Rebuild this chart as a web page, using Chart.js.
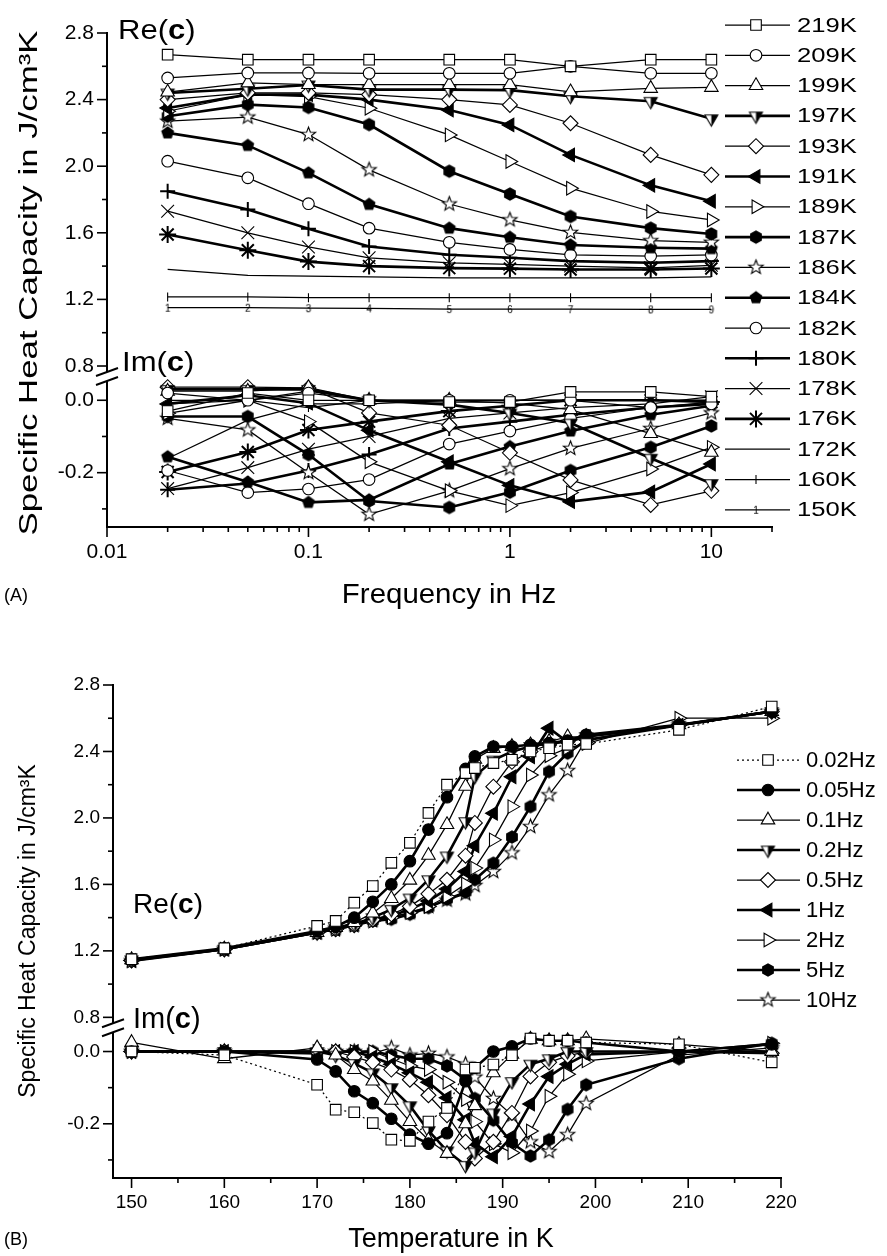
<!DOCTYPE html>
<html>
<head>
<meta charset="utf-8">
<script src="https://cdn.jsdelivr.net/npm/chart.js@4.4.1/dist/chart.umd.min.js"></script>
<style>
  html, body { margin: 0; padding: 0; background: #fff; }
  #wrap { position: relative; width: 887px; height: 1256px; }
  canvas { position: absolute; left: 0; }
</style>
</head>
<body>
<div id="wrap">
  <canvas id="chartA" width="887" height="630" style="top:0"></canvas>
  <canvas id="chartB" width="887" height="626" style="top:630px"></canvas>
</div>
<script>
// ---- datos ----
var freqs = [0.02, 0.05, 0.1, 0.2, 0.5, 1, 2, 5, 10];
var temps = [150, 160, 170, 172, 174, 176, 178, 180, 182, 184, 186, 187, 189, 191, 193, 195, 197, 199, 209, 219];
var freqLabels = ['0.02Hz', '0.05Hz', '0.1Hz', '0.2Hz', '0.5Hz', '1Hz', '2Hz', '5Hz', '10Hz'];
var tempsA = [219, 209, 199, 197, 193, 191, 189, 187, 186, 184, 182, 180, 178, 176, 172, 160, 150];

// Re(c) por frecuencia (un valor por temperatura de "temps")
var re_002 = [1.15, 1.215, 1.35, 1.38, 1.49, 1.59, 1.73, 1.85, 2.03, 2.20, 2.27, 2.30, 2.33, 2.35, 2.40, 2.42, 2.44, 2.445, 2.53, 2.67];
var re_005 = [1.15, 1.215, 1.32, 1.345, 1.40, 1.495, 1.60, 1.74, 1.93, 2.125, 2.295, 2.37, 2.43, 2.43, 2.44, 2.45, 2.465, 2.50, 2.56, 2.64];
var re_01 = [1.147, 1.21, 1.31, 1.34, 1.37, 1.427, 1.515, 1.625, 1.775, 1.96, 2.19, 2.353, 2.418, 2.43, 2.44, 2.46, 2.488, 2.49, 2.56, 2.64];
var re_02 = [1.146, 1.21, 1.31, 1.335, 1.36, 1.40, 1.45, 1.518, 1.628, 1.771, 1.978, 2.25, 2.348, 2.40, 2.43, 2.45, 2.46, 2.49, 2.558, 2.64];
var re_05 = [1.142, 1.21, 1.31, 1.33, 1.355, 1.388, 1.42, 1.468, 1.543, 1.628, 1.773, 1.97, 2.188, 2.338, 2.40, 2.44, 2.46, 2.49, 2.558, 2.64];
var re_1 = [1.142, 1.21, 1.31, 1.33, 1.355, 1.385, 1.41, 1.45, 1.50, 1.573, 1.678, 1.833, 2.028, 2.248, 2.368, 2.54, 2.457, 2.49, 2.558, 2.64];
var re_2 = [1.141, 1.21, 1.31, 1.33, 1.355, 1.38, 1.40, 1.43, 1.467, 1.527, 1.602, 1.698, 1.868, 2.068, 2.258, 2.374, 2.42, 2.447, 2.60, 2.60];
var re_5 = [1.14, 1.21, 1.31, 1.33, 1.355, 1.38, 1.39, 1.42, 1.46, 1.51, 1.553, 1.628, 1.728, 1.885, 2.068, 2.279, 2.39, 2.467, 2.558, 2.64];
var re_10 = [1.14, 1.21, 1.31, 1.335, 1.358, 1.386, 1.405, 1.43, 1.467, 1.505, 1.543, 1.593, 1.677, 1.79, 1.948, 2.139, 2.285, 2.473, 2.558, 2.64];

// Im(c) por frecuencia
var im_002 = [0.0, -0.01, -0.092, -0.161, -0.168, -0.198, -0.244, -0.247, -0.194, -0.156, -0.05, -0.045, -0.036, -0.01, 0.036, 0.03, 0.03, 0.025, 0.02, -0.03];
var im_005 = [0.0, 0.0, -0.022, -0.055, -0.11, -0.143, -0.186, -0.23, -0.255, -0.226, -0.082, -0.045, 0.0, 0.014, 0.036, 0.03, 0.03, 0.025, 0.0, 0.02];
var im_01 = [0.025, -0.02, 0.01, -0.01, -0.05, -0.082, -0.135, -0.194, -0.245, -0.282, -0.2, -0.15, -0.059, -0.008, 0.034, 0.03, 0.03, 0.035, 0.02, 0.0];
var im_02 = [0.0, 0.0, 0.0, -0.01, -0.033, -0.059, -0.1, -0.15, -0.219, -0.275, -0.315, -0.278, -0.17, -0.083, -0.035, -0.02, 0.0, 0.0, 0.0, 0.0];
var im_05 = [0.0, 0.0, 0.0, 0.0, -0.015, -0.03, -0.05, -0.078, -0.121, -0.176, -0.25, -0.296, -0.25, -0.17, -0.069, -0.03, -0.012, 0.0, 0.0, -0.005];
var im_1 = [0.0, 0.0, 0.0, 0.0, 0.0, -0.015, -0.035, -0.059, -0.085, -0.128, -0.189, -0.254, -0.291, -0.235, -0.145, -0.069, -0.035, -0.008, 0.0, -0.005];
var im_2 = [0.0, 0.0, 0.0, 0.0, 0.0, 0.0, -0.02, -0.04, -0.05, -0.085, -0.133, -0.194, -0.255, -0.28, -0.22, -0.124, -0.063, -0.026, 0.0, 0.023];
var im_5 = [0.0, 0.0, -0.005, 0.0, 0.0, 0.0, -0.01, -0.02, -0.02, -0.04, -0.078, -0.13, -0.19, -0.253, -0.289, -0.244, -0.16, -0.092, -0.02, 0.023];
var im_10 = [0.0, 0.0, 0.0, 0.0, 0.0, -0.005, 0.01, -0.01, -0.005, -0.015, -0.035, -0.071, -0.13, -0.176, -0.25, -0.277, -0.23, -0.144, -0.01, 0.01];

// ticks
var reTicks = [0.8, 1.0, 1.2, 1.4, 1.6, 1.8, 2.0, 2.2, 2.4, 2.6, 2.8];
var reTickLabels = [0.8, 1.2, 1.6, 2.0, 2.4, 2.8];
var imTicks = [-0.3, -0.2, -0.1, 0.0];
var imTickLabels = [-0.2, 0.0];
var freqTicks = [0.01, 0.02, 0.03, 0.04, 0.05, 0.06, 0.07, 0.08, 0.09, 0.1, 0.2, 0.3, 0.4, 0.5, 0.6, 0.7, 0.8, 0.9, 1, 2, 3, 4, 5, 6, 7, 8, 9, 10, 20];
var freqTickLabels = [0.01, 0.1, 1, 10];
var tempTicks = [150, 155, 160, 165, 170, 175, 180, 185, 190, 195, 200, 205, 210, 215, 220];
var tempTickLabels = [150, 160, 170, 180, 190, 200, 210, 220];

var reCols = [re_002, re_005, re_01, re_02, re_05, re_1, re_2, re_5, re_10];
var imCols = [im_002, im_005, im_01, im_02, im_05, im_1, im_2, im_5, im_10];

// ---- marcadores ----
var FONT = '"Liberation Sans", Arial, sans-serif';

function shapeCanvas(r, draw) {
    var s = Math.ceil(r * 2 + 4);
    var c = document.createElement('canvas');
    c.width = s; c.height = s;
    var g = c.getContext('2d');
    g.translate(s / 2, s / 2);
    g.lineWidth = 1.1; g.strokeStyle = '#000'; g.fillStyle = '#000';
    draw(g, r);
    return c;
}
function polygon(g, pts) {
    g.beginPath();
    pts.forEach(function(p, i) { if (i) g.lineTo(p[0], p[1]); else g.moveTo(p[0], p[1]); });
    g.closePath();
}
function ngon(n, r) {
    var pts = [];
    for (var i = 0; i < n; i++) {
        var a = i * 2 * Math.PI / n;
        pts.push([r * Math.sin(a), -r * Math.cos(a)]);
    }
    return pts;
}
var pentagonMark = shapeCanvas(6.8, function(g, r) { polygon(g, ngon(5, r)); g.fill(); });
var hexagonMark = shapeCanvas(6.8, function(g, r) { polygon(g, ngon(6, r)); g.fill(); });
var starMark = shapeCanvas(7.5, function(g, r) {
    var pts = [];
    for (var i = 0; i < 10; i++) {
        var rr = i % 2 ? r * 0.42 : r, a = i * Math.PI / 5;
        pts.push([rr * Math.sin(a), -rr * Math.cos(a)]);
    }
    polygon(g, pts); g.fillStyle = '#fff'; g.fill(); g.stroke();
});
var halfDownMark = shapeCanvas(7.5, function(g, r) {
    var a = r * 0.866, b = r * 0.5;
    polygon(g, [[-a, -b], [a, -b], [0, r]]); g.fillStyle = '#fff'; g.fill();
    polygon(g, [[0, -b], [a, -b], [0, r]]); g.fillStyle = '#000'; g.fill();
    polygon(g, [[-a, -b], [a, -b], [0, r]]); g.stroke();
});
function digitMark(d) {
    return shapeCanvas(5, function(g) {
        g.font = '10px ' + FONT; g.textAlign = 'center'; g.textBaseline = 'middle';
        g.fillText(d, 0, 1);
    });
}
var digitMarks = freqs.map(function(f, i) { return digitMark(String(i + 1)); });

var marks = {
    square: {ps: 'rect', r: 7.5, fill: '#fff'},
    circleOpen: {ps: 'circle', r: 5.8, fill: '#fff'},
    circleFilled: {ps: 'circle', r: 5.8, fill: '#000'},
    triUp: {ps: 'triangle', r: 7.8, fill: '#fff'},
    halfDown: {ps: halfDownMark, r: 7.5, fill: '#fff'},
    diamond: {ps: 'rectRot', r: 7.5, fill: '#fff'},
    triLeft: {ps: 'triangle', r: 7.8, rot: 270, fill: '#000'},
    triRight: {ps: 'triangle', r: 7.8, rot: 90, fill: '#fff'},
    hexagon: {ps: hexagonMark, r: 6.8, fill: '#000'},
    star: {ps: starMark, r: 7.5, fill: '#fff'},
    pentagon: {ps: pentagonMark, r: 6.8, fill: '#000'},
    plus: {ps: 'cross', r: 7.5, fill: '#000'},
    cross: {ps: 'crossRot', r: 9, fill: '#000'},
    asterisk: {ps: 'star', r: 8.5, fill: '#000'},
    none: {ps: 'circle', r: 0, fill: '#000'},
    bar: {ps: 'line', r: 4.5, rot: 90, fill: '#000'},
    digits: {ps: digitMarks, r: 5, fill: '#000'}
};

var markA = ['square', 'circleOpen', 'triUp', 'halfDown', 'diamond', 'triLeft', 'triRight', 'hexagon', 'star', 'pentagon', 'circleOpen', 'plus', 'cross', 'asterisk', 'none', 'bar', 'digits'];
var thickA = [0, 0, 0, 1, 0, 1, 0, 1, 0, 1, 0, 1, 0, 1, 0, 0, 0];
var markB = ['square', 'circleFilled', 'triUp', 'halfDown', 'diamond', 'triLeft', 'triRight', 'hexagon', 'star'];
var thickB = [0, 1, 0, 1, 0, 1, 0, 1, 0];

function seriesStyle(kind, thick, dotted) {
    var m = marks[kind];
    return {
        ps: m.ps, r: m.r, rot: m.rot || 0, fill: m.fill,
        lw: thick ? 2.6 : 1.25, pw: thick && (kind == 'plus' || kind == 'asterisk') ? 2 : 1.1,
        dash: dotted ? [2, 3] : []
    };
}
function dataset(points, st, axis) {
    return {
        data: points, yAxisID: axis, xAxisID: 'x',
        borderColor: '#000', borderWidth: st.lw, borderDash: st.dash,
        pointStyle: st.ps, pointRadius: st.r, pointRotation: st.rot,
        pointBackgroundColor: st.fill, pointBorderColor: '#000', pointBorderWidth: st.pw,
        fill: false, tension: 0, showLine: true
    };
}
function hasVal(list, v) {
    return list.some(function(l) { return Math.abs(l - v) < 1e-6; });
}

// ---- ejes ----
function yAxis(min, max, stackW, order, tickVals, labelVals, width, fs) {
    return {
        type: 'linear', position: 'left', stack: 'left', stackWeight: stackW, weight: order,
        min: min, max: max,
        grid: {display: false, drawTicks: true, tickLength: 10},
        border: {display: true, color: '#000', width: 2},
        ticks: {
            autoSkip: false, padding: 3, color: '#000', font: {family: FONT, size: fs},
            callback: function(v) { return hasVal(labelVals, v) ? Number(v).toFixed(1) : ''; }
        },
        afterBuildTicks: function(s) { s.ticks = tickVals.map(function(v) { return {value: v}; }); },
        afterFit: function(s) { s.width = width; }
    };
}
function xAxis(type, min, max, tickVals, labelVals, fs) {
    return {
        type: type, position: 'bottom', min: min, max: max,
        grid: {display: false, drawTicks: true, tickLength: 10},
        border: {display: true, color: '#000', width: 2},
        ticks: {
            autoSkip: false, maxRotation: 0, padding: 3, color: '#000', font: {family: FONT, size: fs},
            callback: function(v) { return hasVal(labelVals, v) ? String(v) : ''; }
        },
        afterBuildTicks: function(s) { s.ticks = tickVals.map(function(v) { return {value: v}; }); },
        afterFit: function(s) { s.height = 60; }
    };
}

// ---- dibujo extra: ticks, corte del eje, rotulos y leyenda ----
function line(ctx, x1, y1, x2, y2) {
    ctx.beginPath(); ctx.moveTo(x1, y1); ctx.lineTo(x2, y2); ctx.stroke();
}
function marker(ctx, st, x, y) {
    ctx.save();
    ctx.fillStyle = st.fill; ctx.strokeStyle = '#000'; ctx.lineWidth = st.pw;
    var ps = Array.isArray(st.ps) ? st.ps[0] : st.ps;
    Chart.helpers.drawPoint(ctx, {pointStyle: ps, rotation: st.rot, radius: st.r, borderWidth: st.pw}, x, y);
    ctx.restore();
}
// texto estirado en horizontal (la figura A viene deformada)
function wideText(ctx, txt, x, y, sx) {
    ctx.save();
    ctx.translate(x, y);
    ctx.scale(sx, 1);
    ctx.fillText(txt, 0, 0);
    ctx.restore();
}
function reImText(ctx, pre, x, y, size, sx) {
    ctx.save();
    ctx.translate(x, y);
    ctx.scale(sx, 1);
    ctx.textAlign = 'left'; ctx.textBaseline = 'alphabetic';
    ctx.font = size + 'px ' + FONT;
    ctx.fillText(pre + '(', 0, 0);
    var w = ctx.measureText(pre + '(').width;
    ctx.font = 'bold ' + size + 'px ' + FONT;
    ctx.fillText('c', w, 0);
    w += ctx.measureText('c').width;
    ctx.font = size + 'px ' + FONT;
    ctx.fillText(')', w, 0);
    ctx.restore();
}

var decor = {
    id: 'decor',
    afterDraw: function(chart, args, o) {
        var ctx = chart.ctx;
        var yRe = chart.scales.yRe, yIm = chart.scales.yIm, xs = chart.scales.x;
        ctx.save();
        ctx.strokeStyle = '#000'; ctx.fillStyle = '#000'; ctx.lineWidth = 1.6;

        // marcas de los ejes (mayores y menores)
        [yRe, yIm].forEach(function(s) {
            s.ticks.forEach(function(t) {
                var y = s.getPixelForValue(t.value);
                line(ctx, s.right - (t.label ? 10 : 5), y, s.right, y);
            });
        });
        xs.ticks.forEach(function(t) {
            var x = xs.getPixelForValue(t.value);
            line(ctx, x, xs.top, x, xs.top + (t.label ? 10 : 5));
        });

        // corte del eje y
        var ax = yRe.right, c = yRe.bottom;
        ctx.fillStyle = '#fff';
        ctx.fillRect(ax - 4, c - 4, 8, 9);
        ctx.fillStyle = '#000';
        ctx.lineWidth = 2;
        line(ctx, ax - 11, c, ax + 11, c - 8);
        line(ctx, ax - 11, c + 9, ax + 11, c + 1);

        // Re(c) / Im(c)
        reImText(ctx, 'Re', o.re[0], o.re[1], o.re[2], o.sx);
        reImText(ctx, 'Im', o.im[0], o.im[1], o.im[2], o.sx);

        // titulo del eje y (largo ajustado)
        ctx.font = o.titleSize + 'px ' + FONT;
        ctx.textAlign = 'center'; ctx.textBaseline = 'middle';
        var yt = 'Specific Heat Capacity in J/cm\u00B3K';
        var ys = o.yTitleLen ? o.yTitleLen / ctx.measureText(yt).width : 1;
        ctx.save();
        ctx.translate(o.yTitle[0], o.yTitle[1]);
        ctx.rotate(-Math.PI / 2);
        wideText(ctx, yt, 0, 0, ys);
        ctx.restore();

        // titulo del eje x y letra del panel
        ctx.font = o.xTitleSize + 'px ' + FONT;
        wideText(ctx, o.xTitle, o.xTitlePos[0], o.xTitlePos[1], o.xTitleSx);
        ctx.font = '18px ' + FONT;
        ctx.textAlign = 'left';
        ctx.fillText(o.panel, 4, o.xTitlePos[1]);

        // leyenda
        var lg = o.legend;
        ctx.font = lg.size + 'px ' + FONT;
        lg.items.forEach(function(it, i) {
            var y = lg.y0 + i * lg.dy;
            ctx.lineWidth = it.st.lw;
            ctx.setLineDash(it.st.dash);
            line(ctx, lg.x0, y, lg.x1, y);
            ctx.setLineDash([]);
            if (it.st.r > 0) marker(ctx, it.st, lg.xm, y);
            ctx.fillStyle = '#000';
            ctx.textAlign = 'left'; ctx.textBaseline = 'middle';
            wideText(ctx, it.label, lg.xt, y + 1, lg.sx);
        });
        ctx.restore();
    }
};

function baseOptions(xScale, pad, yWidth, fs, decorOpts) {
    return {
        responsive: false, animation: false, events: [],
        layout: {padding: pad},
        plugins: {legend: {display: false}, tooltip: {enabled: false}, decor: decorOpts},
        scales: {
            x: xScale,
            yRe: yAxis(0.74, 2.8, 343, 2, reTicks, reTickLabels, yWidth, fs),
            yIm: yAxis(-0.35, 0.067, 151, 1, imTicks, imTickLabels, yWidth, fs)
        }
    };
}

// ---- grafica A: contra frecuencia ----
var dsA = [], legA = [];
tempsA.forEach(function(T, n) {
    var k = temps.indexOf(T);
    var st = seriesStyle(markA[n], thickA[n], false);
    var rePts = freqs.map(function(f, i) { return {x: f, y: reCols[i][k]}; });
    var imPts = freqs.map(function(f, i) { return {x: f, y: imCols[i][k]}; });
    dsA.push(dataset(rePts, st, 'yRe'));
    dsA.push(dataset(imPts, st, 'yIm'));
    legA.push({label: T + 'K', st: st});
});

new Chart(document.getElementById('chartA'), {
    type: 'line',
    data: {datasets: dsA},
    options: baseOptions(
        xAxis('logarithmic', 0.01, 20, freqTicks, freqTickLabels, 21),
        {top: 33, left: 0, right: 115, bottom: 43}, 107, 21,
        {
            sx: 1.15,
            re: [118, 39, 27], im: [122, 371, 27],
            yTitle: [30, 283], titleSize: 26, yTitleLen: 505,
            xTitle: 'Frequency in Hz', xTitlePos: [449, 596], xTitleSize: 27, xTitleSx: 1.09, panel: '(A)',
            legend: {x0: 725, x1: 790, xm: 756, xt: 797, y0: 25, dy: 30.3, size: 20, sx: 1.28, items: legA}
        }
    ),
    plugins: [decor]
});

// ---- grafica B: contra temperatura ----
var dsB = [], legB = [];
freqs.forEach(function(f, i) {
    var st = seriesStyle(markB[i], thickB[i], i === 0);
    var rePts = temps.map(function(T, k) { return {x: T, y: reCols[i][k]}; });
    var imPts = temps.map(function(T, k) { return {x: T, y: imCols[i][k]}; });
    dsB.push(dataset(rePts, st, 'yRe'));
    dsB.push(dataset(imPts, st, 'yIm'));
    legB.push({label: freqLabels[i], st: st});
});

new Chart(document.getElementById('chartB'), {
    type: 'line',
    data: {datasets: dsB},
    options: baseOptions(
        xAxis('linear', 148, 220, tempTicks, tempTickLabels, 19),
        {top: 55, left: 0, right: 106, bottom: 18}, 113, 19,
        {
            sx: 1,
            re: [133, 283, 28], im: [133, 398, 29],
            yTitle: [29, 301], titleSize: 23, yTitleLen: 0,
            xTitle: 'Temperature in K', xTitlePos: [451, 610], xTitleSize: 27, xTitleSx: 1, panel: '(B)',
            legend: {x0: 737, x1: 800, xm: 768, xt: 806, y0: 130, dy: 30, size: 22, sx: 1, items: legB}
        }
    ),
    plugins: [decor]
});
</script>
</body>
</html>
